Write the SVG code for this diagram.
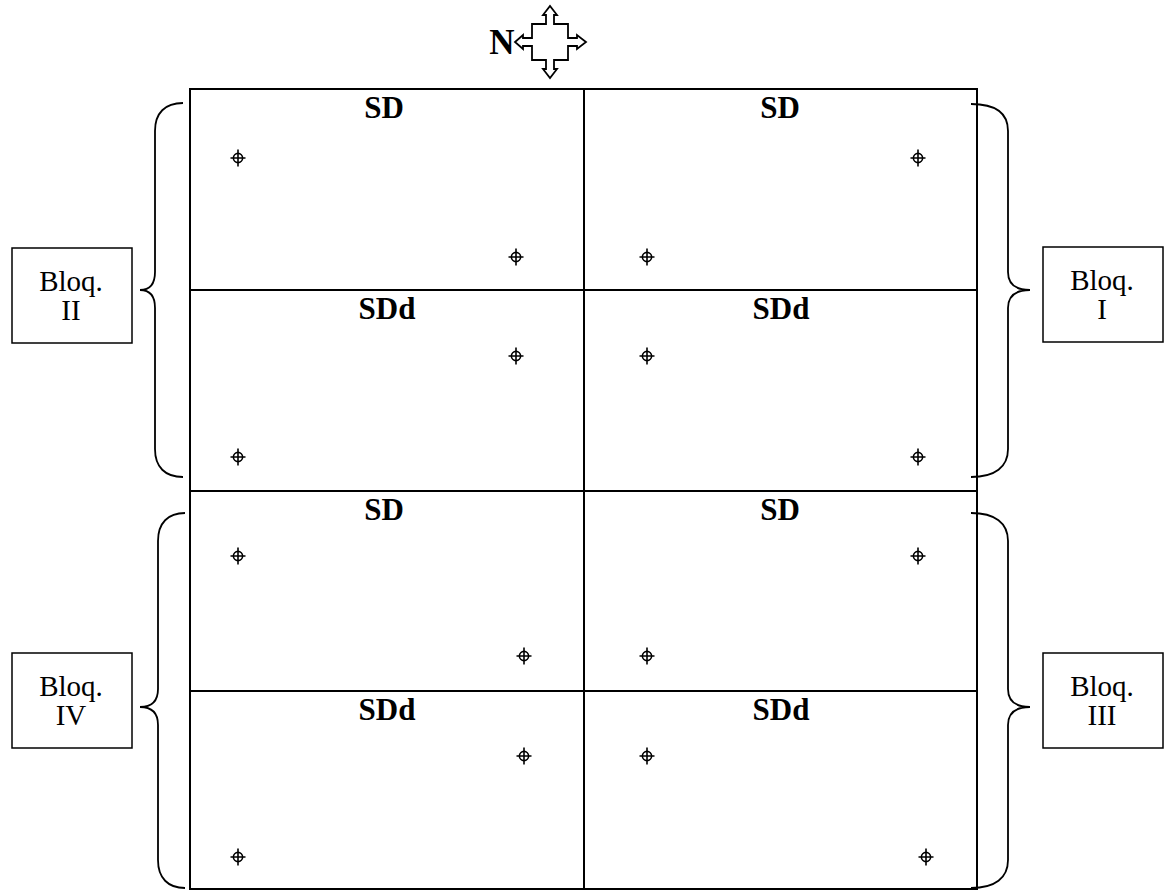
<svg xmlns="http://www.w3.org/2000/svg" width="1165" height="893" viewBox="0 0 1165 893">
<style>
.grid{fill:none;stroke:#000;stroke-width:2}
.brace{fill:none;stroke:#000;stroke-width:1.8}
.box{fill:#fff;stroke:#000;stroke-width:1.5}
.lbl{font-family:"Liberation Serif",serif;font-weight:bold;font-size:31px;text-anchor:middle;fill:#000}
.blq{font-family:"Liberation Serif",serif;font-size:29px;text-anchor:middle;fill:#000}
.mk{fill:none;stroke:#000;stroke-width:1.6}
</style>
<defs>
<g id="pt"><circle class="mk" cx="0" cy="0" r="4.6"/><path class="mk" d="M-7.5,0H7.5M0,-8.5V8.5"/></g>
</defs>
<g id="compass">
<text x="502" y="54" style="font-family:'Liberation Serif',serif;font-weight:bold;font-size:35px;text-anchor:middle">N</text>
<path fill="#fff" stroke="#000" stroke-width="1.8" d="M532,24 H546 V15 H543 L550,6 L557,15 H554 V24 H568 V38 H577 V35 L586,42 L577,49 V46 H568 V60 H554 V69 H557 L550,78 L543,69 H546 V60 H532 V46 H523 V49 L515,42 L523,35 V38 H532 Z"/>
</g>
<g id="connectors">
<path class="brace" d="M183,103 C165,103 155,113 155,131 L155,272 C155,284 150,290 140,290 C150,290 155,296 155,308 L155,449 C155,467 165,477 183,477"/>
<path class="brace" d="M185,513 C168,513 158,523 158,541 L158,689 C158,701 152,707 140,707 C152,707 158,713 158,725 L158,860 C158,878 168,888 185,888"/>
<path class="brace" d="M971,104 C995,104 1008,113 1008,131 L1008,272 C1008,284 1016,290 1030,290 C1016,290 1008,296 1008,308 L1008,449 C1008,467 995,477 971,477"/>
<path class="brace" d="M971,513 C995,513 1008,523 1008,541 L1008,689 C1008,701 1016,707 1030,707 C1016,707 1008,713 1008,725 L1008,860 C1008,878 995,888 971,888"/>
</g>
<g id="field">
<rect class="grid" x="190" y="89" width="787" height="800"/>
<path class="grid" d="M584,89 V889 M190,290 H977 M190,491 H977 M190,691 H977"/>
</g>
<g id="plot-1"><text class="lbl" x="384" y="118">SD</text><use href="#pt" x="238" y="158"/><use href="#pt" x="516" y="257"/></g>
<g id="plot-2"><text class="lbl" x="780" y="118">SD</text><use href="#pt" x="918" y="158"/><use href="#pt" x="647" y="257"/></g>
<g id="plot-3"><text class="lbl" x="387" y="319">SDd</text><use href="#pt" x="516" y="356"/><use href="#pt" x="238" y="457"/></g>
<g id="plot-4"><text class="lbl" x="781" y="319">SDd</text><use href="#pt" x="647" y="356"/><use href="#pt" x="918" y="457"/></g>
<g id="plot-5"><text class="lbl" x="384" y="520">SD</text><use href="#pt" x="238" y="556"/><use href="#pt" x="524" y="656"/></g>
<g id="plot-6"><text class="lbl" x="780" y="520">SD</text><use href="#pt" x="918" y="556"/><use href="#pt" x="647" y="656"/></g>
<g id="plot-7"><text class="lbl" x="387" y="720">SDd</text><use href="#pt" x="524" y="756"/><use href="#pt" x="238" y="857"/></g>
<g id="plot-8"><text class="lbl" x="781" y="720">SDd</text><use href="#pt" x="647" y="756"/><use href="#pt" x="926" y="857"/></g>
<g id="bloq-2"><rect class="box" x="12" y="248" width="120" height="95"/><text class="blq" x="71" y="291">Bloq.</text><text class="blq" x="71" y="320">II</text></g>
<g id="bloq-1"><rect class="box" x="1043" y="247" width="120" height="95"/><text class="blq" x="1102" y="290">Bloq.</text><text class="blq" x="1102" y="319">I</text></g>
<g id="bloq-4"><rect class="box" x="12" y="653" width="120" height="95"/><text class="blq" x="71" y="696">Bloq.</text><text class="blq" x="71" y="725">IV</text></g>
<g id="bloq-3"><rect class="box" x="1043" y="653" width="120" height="95"/><text class="blq" x="1102" y="696">Bloq.</text><text class="blq" x="1102" y="725">III</text></g>
</svg>
